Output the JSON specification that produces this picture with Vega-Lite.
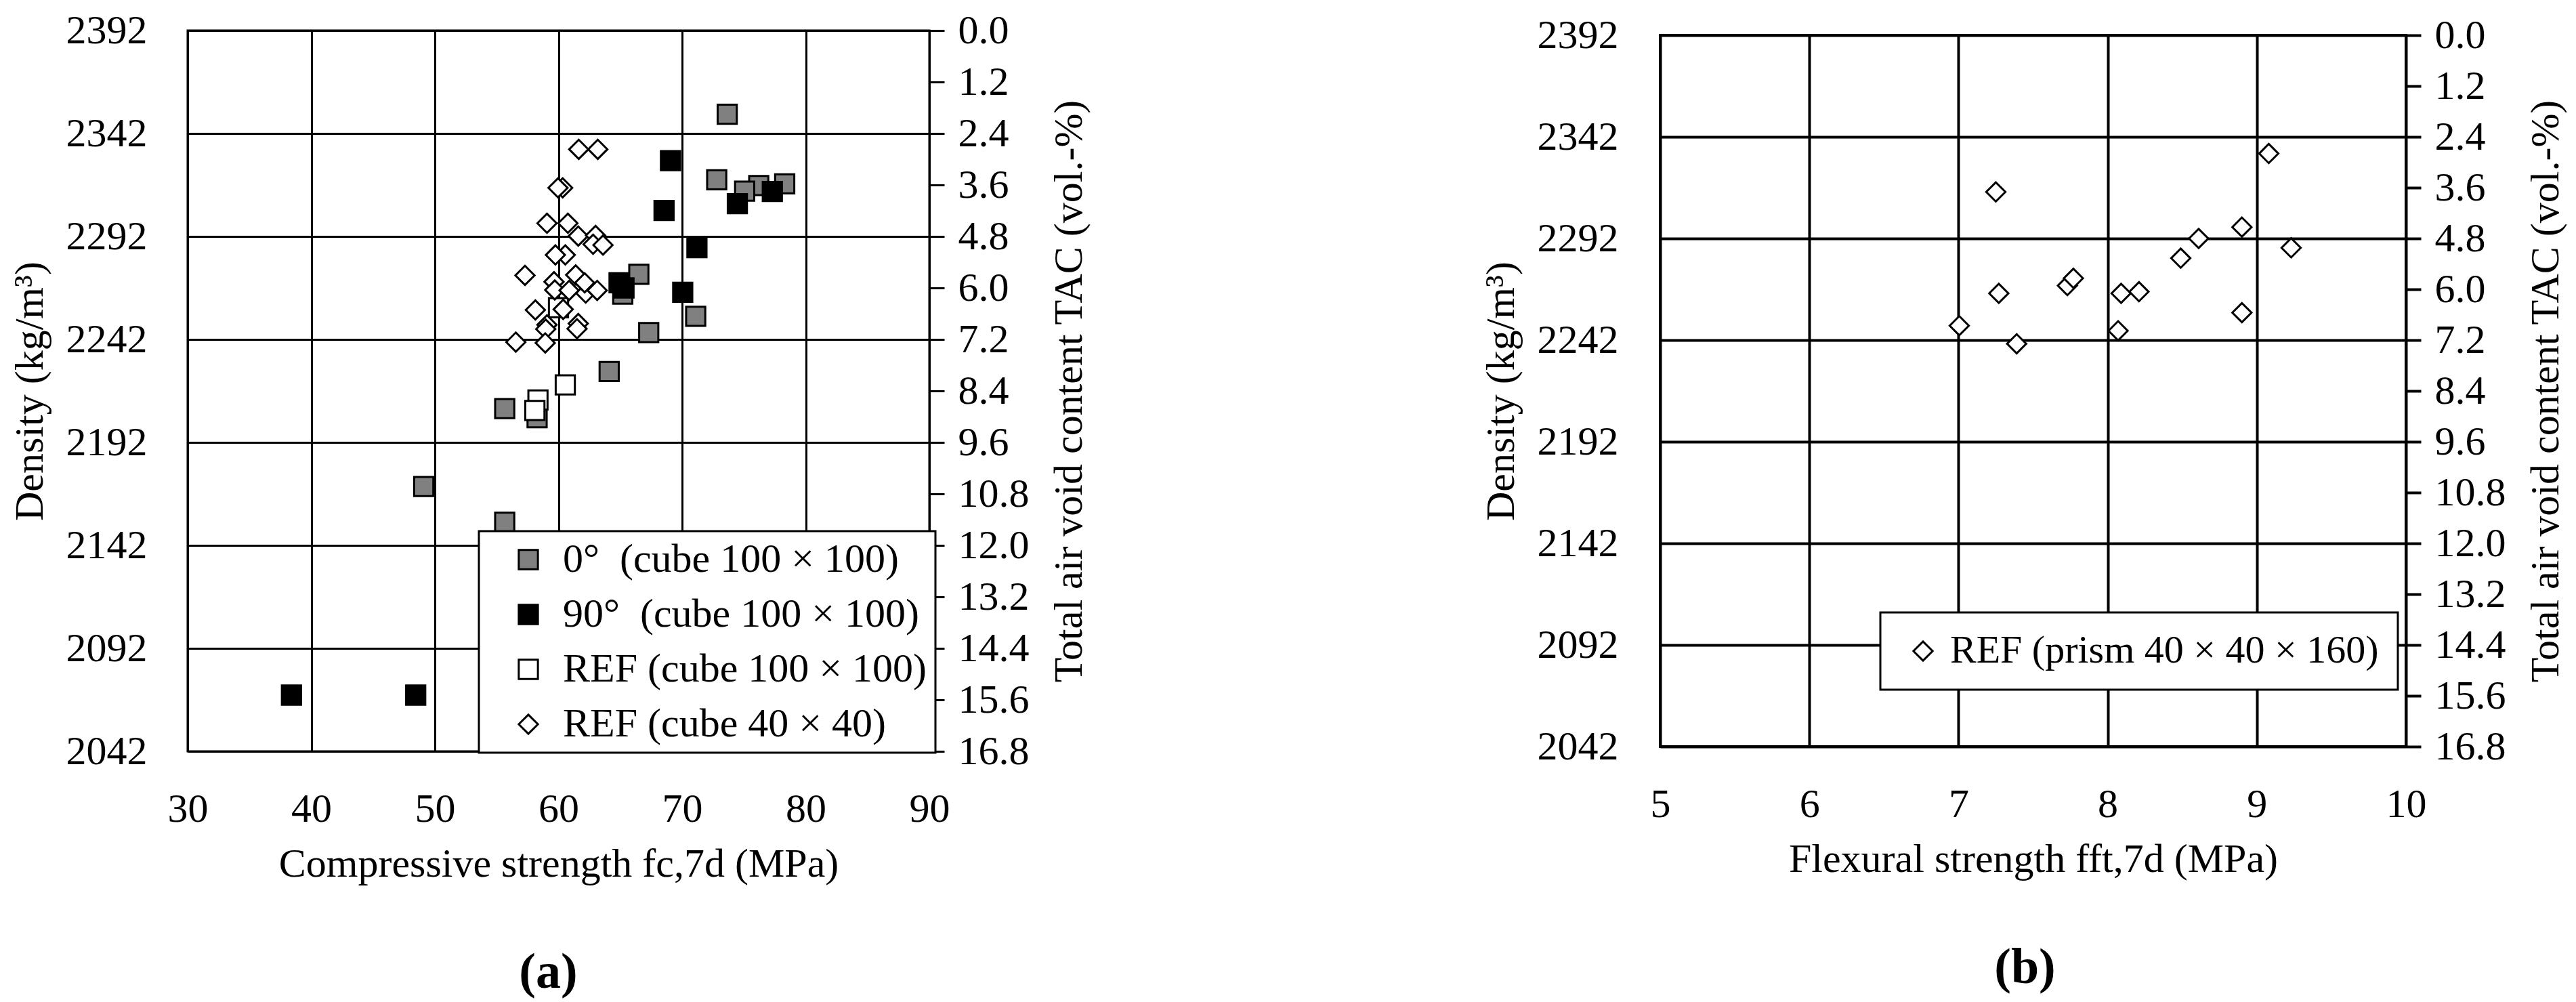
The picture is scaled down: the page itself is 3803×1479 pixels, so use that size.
{
 "$schema": "https://vega.github.io/schema/vega-lite/v6.json",
 "background": "white",
 "padding": {"left": 12, "top": 13, "right": 5, "bottom": 0},
 "datasets": {
  "a": [
   {"s": "0°\u00a0 (cube 100 × 100)", "x": 73.65, "d": 2351.3},
   {"s": "0°\u00a0 (cube 100 × 100)", "x": 72.8, "d": 2319.5},
   {"s": "0°\u00a0 (cube 100 × 100)", "x": 76.2, "d": 2316.7},
   {"s": "0°\u00a0 (cube 100 × 100)", "x": 78.3, "d": 2317.5},
   {"s": "0°\u00a0 (cube 100 × 100)", "x": 75.06, "d": 2314},
   {"s": "0°\u00a0 (cube 100 × 100)", "x": 66.5, "d": 2273.6},
   {"s": "0°\u00a0 (cube 100 × 100)", "x": 65.2, "d": 2264},
   {"s": "0°\u00a0 (cube 100 × 100)", "x": 71.1, "d": 2253.2},
   {"s": "0°\u00a0 (cube 100 × 100)", "x": 67.3, "d": 2245.3},
   {"s": "0°\u00a0 (cube 100 × 100)", "x": 64.1, "d": 2226.4},
   {"s": "0°\u00a0 (cube 100 × 100)", "x": 55.65, "d": 2208.4},
   {"s": "0°\u00a0 (cube 100 × 100)", "x": 58.27, "d": 2204},
   {"s": "0°\u00a0 (cube 100 × 100)", "x": 49.1, "d": 2170.6},
   {"s": "0°\u00a0 (cube 100 × 100)", "x": 55.65, "d": 2153.2},
   {"s": "90°\u00a0 (cube 100 × 100)", "x": 38.4, "d": 2069.3},
   {"s": "90°\u00a0 (cube 100 × 100)", "x": 48.45, "d": 2069.3},
   {"s": "90°\u00a0 (cube 100 × 100)", "x": 69.06, "d": 2328.8},
   {"s": "90°\u00a0 (cube 100 × 100)", "x": 74.47, "d": 2307.9},
   {"s": "90°\u00a0 (cube 100 × 100)", "x": 77.3, "d": 2313.8},
   {"s": "90°\u00a0 (cube 100 × 100)", "x": 68.54, "d": 2304.6},
   {"s": "90°\u00a0 (cube 100 × 100)", "x": 71.2, "d": 2286.5},
   {"s": "90°\u00a0 (cube 100 × 100)", "x": 70.05, "d": 2264.9},
   {"s": "90°\u00a0 (cube 100 × 100)", "x": 64.9, "d": 2269.5},
   {"s": "90°\u00a0 (cube 100 × 100)", "x": 65.3, "d": 2267},
   {"s": "REF (cube 100 × 100)", "x": 58.34, "d": 2212.6},
   {"s": "REF (cube 100 × 100)", "x": 58.09, "d": 2207.5},
   {"s": "REF (cube 100 × 100)", "x": 60.55, "d": 2219.9},
   {"s": "REF (cube 100 × 100)", "x": 60.0, "d": 2257.4},
   {"s": "REF (cube 40 × 40)", "x": 61.64, "d": 2334.3},
   {"s": "REF (cube 40 × 40)", "x": 63.18, "d": 2334.3},
   {"s": "REF (cube 40 × 40)", "x": 60.34, "d": 2315.6},
   {"s": "REF (cube 40 × 40)", "x": 59.96, "d": 2315.6},
   {"s": "REF (cube 40 × 40)", "x": 59.07, "d": 2298.4},
   {"s": "REF (cube 40 × 40)", "x": 60.76, "d": 2298.4},
   {"s": "REF (cube 40 × 40)", "x": 61.6, "d": 2292.2},
   {"s": "REF (cube 40 × 40)", "x": 63.0, "d": 2292.5},
   {"s": "REF (cube 40 × 40)", "x": 62.8, "d": 2288.2},
   {"s": "REF (cube 40 × 40)", "x": 63.6, "d": 2287.8},
   {"s": "REF (cube 40 × 40)", "x": 60.55, "d": 2283},
   {"s": "REF (cube 40 × 40)", "x": 59.75, "d": 2283},
   {"s": "REF (cube 40 × 40)", "x": 57.29, "d": 2273.1},
   {"s": "REF (cube 40 × 40)", "x": 61.39, "d": 2273.3},
   {"s": "REF (cube 40 × 40)", "x": 59.64, "d": 2270},
   {"s": "REF (cube 40 × 40)", "x": 62.2, "d": 2264.5},
   {"s": "REF (cube 40 × 40)", "x": 62.12, "d": 2269.5},
   {"s": "REF (cube 40 × 40)", "x": 59.7, "d": 2266},
   {"s": "REF (cube 40 × 40)", "x": 60.86, "d": 2265.8},
   {"s": "REF (cube 40 × 40)", "x": 63.13, "d": 2265.8},
   {"s": "REF (cube 40 × 40)", "x": 58.13, "d": 2256.3},
   {"s": "REF (cube 40 × 40)", "x": 60.38, "d": 2256.6},
   {"s": "REF (cube 40 × 40)", "x": 61.6, "d": 2249.7},
   {"s": "REF (cube 40 × 40)", "x": 59.07, "d": 2249.1},
   {"s": "REF (cube 40 × 40)", "x": 61.5, "d": 2247.2},
   {"s": "REF (cube 40 × 40)", "x": 58.97, "d": 2247},
   {"s": "REF (cube 40 × 40)", "x": 56.55, "d": 2240.7},
   {"s": "REF (cube 40 × 40)", "x": 58.93, "d": 2240.3}
  ],
  "b": [
   {"s": "REF (prism 40 × 40 × 160)", "x": 7.005, "d": 2249.1},
   {"s": "REF (prism 40 × 40 × 160)", "x": 7.25, "d": 2314.9},
   {"s": "REF (prism 40 × 40 × 160)", "x": 7.27, "d": 2265.0},
   {"s": "REF (prism 40 × 40 × 160)", "x": 7.39, "d": 2240.2},
   {"s": "REF (prism 40 × 40 × 160)", "x": 7.73, "d": 2268.8},
   {"s": "REF (prism 40 × 40 × 160)", "x": 7.77, "d": 2272.4},
   {"s": "REF (prism 40 × 40 × 160)", "x": 8.07, "d": 2246.6},
   {"s": "REF (prism 40 × 40 × 160)", "x": 8.09, "d": 2265},
   {"s": "REF (prism 40 × 40 × 160)", "x": 8.21, "d": 2265.8},
   {"s": "REF (prism 40 × 40 × 160)", "x": 8.49, "d": 2282.3},
   {"s": "REF (prism 40 × 40 × 160)", "x": 8.61, "d": 2292},
   {"s": "REF (prism 40 × 40 × 160)", "x": 8.9, "d": 2297.6},
   {"s": "REF (prism 40 × 40 × 160)", "x": 8.9, "d": 2255.5},
   {"s": "REF (prism 40 × 40 × 160)", "x": 9.08, "d": 2333.8},
   {"s": "REF (prism 40 × 40 × 160)", "x": 9.23, "d": 2287.4}
  ]
 },
 "hconcat": [
  {
   "width": 1095,
   "height": 1064,
   "data": {"name": "a"},
   "view": {"stroke": "black", "strokeWidth": 3},
   "title": {"text": "(a)", "orient": "bottom", "frame": "group", "anchor": "middle", "dx": -15, "fontSize": 74, "fontWeight": "bold", "font": "Liberation Serif", "color": "black", "offset": 95},
   "encoding": {
    "x": {"field": "x", "type": "quantitative",
     "scale": {"domain": [30, 90], "nice": false, "zero": false},
     "axis": {"values": [30, 40, 50, 60, 70, 80, 90], "format": "d", "title": "Compressive strength fc,7d (MPa)", "grid": true, "gridWidth": 3, "ticks": false, "tickSize": 0, "domain": false, "labelPadding": 56, "titlePadding": 22}}
   },
   "layer": [
    {
     "mark": {"type": "point", "filled": true, "size": 800, "strokeWidth": 3, "opacity": 1},
     "encoding": {
      "y": {"field": "d", "type": "quantitative",
       "scale": {"domain": [2042, 2392], "nice": false, "zero": false},
       "axis": {"orient": "left", "values": [2042, 2092, 2142, 2192, 2242, 2292, 2342, 2392], "format": "d", "title": "Density (kg/m³)", "grid": true, "gridWidth": 3, "ticks": false, "tickSize": 0, "domain": false, "labelPadding": 60, "titlePadding": 22}},
      "fill": {"field": "s", "type": "nominal",
       "scale": {"domain": ["0°\u00a0 (cube 100 × 100)", "90°\u00a0 (cube 100 × 100)", "REF (cube 100 × 100)", "REF (cube 40 × 40)"], "range": ["#808080", "#000000", "#ffffff", "#ffffff"]},
       "legend": {"title": null, "orient": "none", "legendX": 430, "legendY": 739, "padding": 12, "symbolOffset": 31, "labelOffset": 21, "rowPadding": 21, "fillColor": "white", "strokeColor": "black", "symbolSize": 800, "symbolStrokeWidth": 3, "labelFontSize": 60, "labelFont": "Liberation Serif", "labelColor": "black", "labelLimit": 0}},
      "shape": {"field": "s", "type": "nominal",
       "scale": {"domain": ["0°\u00a0 (cube 100 × 100)", "90°\u00a0 (cube 100 × 100)", "REF (cube 100 × 100)", "REF (cube 40 × 40)"], "range": ["square", "square", "square", "diamond"]},
       "legend": {"title": null, "orient": "none", "legendX": 430, "legendY": 739, "padding": 12, "symbolOffset": 31, "labelOffset": 21, "rowPadding": 21, "fillColor": "white", "strokeColor": "black", "symbolSize": 800, "symbolStrokeWidth": 3, "labelFontSize": 60, "labelFont": "Liberation Serif", "labelColor": "black", "labelLimit": 0}},
      "stroke": {"field": "s", "type": "nominal",
       "scale": {"domain": ["0°\u00a0 (cube 100 × 100)", "90°\u00a0 (cube 100 × 100)", "REF (cube 100 × 100)", "REF (cube 40 × 40)"], "range": ["#000000", "#000000", "#000000", "#000000"]},
       "legend": {"title": null, "orient": "none", "legendX": 430, "legendY": 739, "padding": 12, "symbolOffset": 31, "labelOffset": 21, "rowPadding": 21, "fillColor": "white", "strokeColor": "black", "symbolSize": 800, "symbolStrokeWidth": 3, "labelFontSize": 60, "labelFont": "Liberation Serif", "labelColor": "black", "labelLimit": 0}}
     }
    },
    {
     "mark": {"type": "point", "opacity": 0},
     "encoding": {
      "y": {"field": "d", "type": "quantitative",
       "axis": {"orient": "right", "values": [2042, 2067, 2092, 2117, 2142, 2167, 2192, 2217, 2242, 2267, 2292, 2317, 2342, 2367, 2392], "labelExpr": "format((2392 - datum.value) * 1.2 / 25, '.1f')", "grid": false, "ticks": true, "tickSize": 22, "tickWidth": 3, "tickColor": "black", "domain": false, "labelPadding": 20, "title": "Total air void content TAC (vol.-%)", "titleAngle": 270, "titleBaseline": "top", "titlePadding": 30}}
     }
    }
   ],
   "resolve": {"axis": {"y": "independent"}}
  },
  {
   "width": 1101,
   "height": 1050,
   "data": {"name": "b"},
   "view": {"stroke": "black", "strokeWidth": 4},
   "title": {"text": "(b)", "orient": "bottom", "frame": "group", "anchor": "middle", "dx": -12, "fontSize": 74, "fontWeight": "bold", "font": "Liberation Serif", "color": "black", "offset": 95},
   "encoding": {
    "x": {"field": "x", "type": "quantitative",
     "scale": {"domain": [5, 10], "nice": false, "zero": false},
     "axis": {"values": [5, 6, 7, 8, 9, 10], "format": "d", "title": "Flexural strength fft,7d (MPa)", "grid": true, "gridWidth": 4, "ticks": false, "tickSize": 0, "domain": false, "labelPadding": 56, "titlePadding": 22}}
   },
   "layer": [
    {
     "mark": {"type": "point", "filled": true, "size": 800, "strokeWidth": 3, "opacity": 1},
     "encoding": {
      "y": {"field": "d", "type": "quantitative",
       "scale": {"domain": [2042, 2392], "nice": false, "zero": false},
       "axis": {"orient": "left", "values": [2042, 2092, 2142, 2192, 2242, 2292, 2342, 2392], "format": "d", "title": "Density (kg/m³)", "grid": true, "gridWidth": 4, "ticks": false, "tickSize": 0, "domain": false, "labelPadding": 62, "titlePadding": 22}},
      "fill": {"field": "s", "type": "nominal",
       "scale": {"domain": ["REF (prism 40 × 40 × 160)"], "range": ["#ffffff"]},
       "legend": {"title": null, "orient": "none", "legendX": 325, "legendY": 852, "padding": 28, "symbolOffset": 6, "labelOffset": 11, "fillColor": "white", "strokeColor": "black", "symbolSize": 800, "symbolStrokeWidth": 3, "labelFontSize": 58, "labelFont": "Liberation Serif", "labelColor": "black", "labelLimit": 0}},
      "shape": {"field": "s", "type": "nominal",
       "scale": {"domain": ["REF (prism 40 × 40 × 160)"], "range": ["diamond"]},
       "legend": {"title": null, "orient": "none", "legendX": 325, "legendY": 852, "padding": 28, "symbolOffset": 6, "labelOffset": 11, "fillColor": "white", "strokeColor": "black", "symbolSize": 800, "symbolStrokeWidth": 3, "labelFontSize": 58, "labelFont": "Liberation Serif", "labelColor": "black", "labelLimit": 0}},
      "stroke": {"field": "s", "type": "nominal",
       "scale": {"domain": ["REF (prism 40 × 40 × 160)"], "range": ["#000000"]},
       "legend": {"title": null, "orient": "none", "legendX": 325, "legendY": 852, "padding": 28, "symbolOffset": 6, "labelOffset": 11, "fillColor": "white", "strokeColor": "black", "symbolSize": 800, "symbolStrokeWidth": 3, "labelFontSize": 58, "labelFont": "Liberation Serif", "labelColor": "black", "labelLimit": 0}}
     }
    },
    {
     "mark": {"type": "point", "opacity": 0},
     "encoding": {
      "y": {"field": "d", "type": "quantitative",
       "axis": {"orient": "right", "values": [2042, 2067, 2092, 2117, 2142, 2167, 2192, 2217, 2242, 2267, 2292, 2317, 2342, 2367, 2392], "labelExpr": "format((2392 - datum.value) * 1.2 / 25, '.1f')", "grid": false, "ticks": true, "tickSize": 22, "tickWidth": 4, "tickColor": "black", "domain": false, "labelPadding": 20, "title": "Total air void content TAC (vol.-%)", "titleAngle": 270, "titleBaseline": "top", "titlePadding": 30}}
     }
    }
   ],
   "resolve": {"axis": {"y": "independent"}}
  }
 ],
 "spacing": 1079,
 "bounds": "flush",
 "center": true,
 "resolve": {"scale": {"fill": "independent", "shape": "independent", "stroke": "independent", "x": "independent", "y": "independent"}, "legend": {"fill": "independent", "shape": "independent", "stroke": "independent"}},
 "config": {
  "font": "Liberation Serif",
  "axis": {
   "labelFont": "Liberation Serif", "labelFontSize": 60, "labelColor": "black", "labelFlush": false, "labelOverlap": false,
   "titleFont": "Liberation Serif", "titleFontSize": 60, "titleFontWeight": "normal", "titleColor": "black",
   "gridColor": "black", "gridOpacity": 1, "domainColor": "black"
  },
  "legend": {"strokeWidth": 3}
 }
}
